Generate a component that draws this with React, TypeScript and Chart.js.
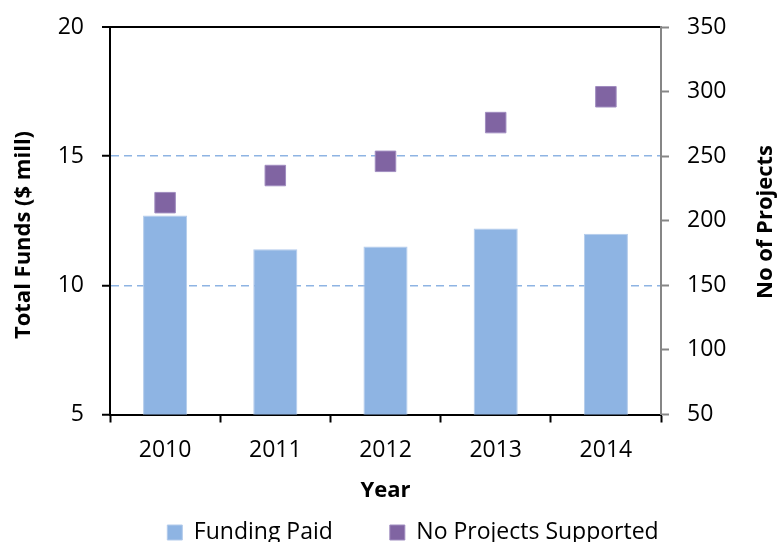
import React, { useEffect, useRef } from "react";
import { Chart, registerables } from "chart.js";

Chart.register(...registerables);

const years = ["2010", "2011", "2012", "2013", "2014"];
const fundingPaid = [12.7, 11.4, 11.5, 12.2, 12.0];
const projectsSupported = [214, 235, 246, 276, 296];
const leftTicks = [5, 10, 15, 20];
const rightTicks = [50, 100, 150, 200, 250, 300, 350];
const leftTitle = "Total Funds ($ mill)";
const rightTitle = "No of Projects";
const xTitle = "Year";

const FONT = "'Open Sans', 'DejaVu Sans', sans-serif";
const W = 778;
const H = 554.5;

const sideTitlesPlugin = {
  id: "sideTitles",
  afterDraw(chart: any) {
    const { ctx } = chart;
    const draw = (text: string, x: number, y: number) => {
      ctx.save();
      ctx.translate(x, y);
      ctx.rotate(-Math.PI / 2);
      ctx.font = `bold 22px ${FONT}`;
      ctx.fillStyle = "#000";
      ctx.textAlign = "center";
      ctx.textBaseline = "middle";
      ctx.fillText(text, 0, 0);
      ctx.restore();
    };
    draw(leftTitle, 24, 235);
    draw(rightTitle, 766, 222);
  },
};

export default function App() {
  const ref = useRef<HTMLCanvasElement | null>(null);
  useEffect(() => {
    if (!ref.current) return;
    const chart = new Chart(ref.current, {
      type: "bar",
      data: {
        labels: years,
        datasets: [
          {
            type: "bar",
            label: "Funding Paid",
            data: fundingPaid,
            yAxisID: "y",
            backgroundColor: "#8EB4E3",
            borderColor: "#B3CBEB",
            borderWidth: 1,
            barPercentage: 0.4,
            categoryPercentage: 1.0,
          },
          {
            type: "line",
            label: "No Projects Supported",
            data: projectsSupported,
            yAxisID: "y2",
            showLine: false,
            pointStyle: "rect",
            pointRadius: 14.5,
            pointHoverRadius: 14.5,
            backgroundColor: "#8064A2",
            borderColor: "#A08DC0",
            borderWidth: 1,
          } as any,
        ],
      },
      options: {
        responsive: false,
        animation: false,
        layout: { padding: { top: 27, left: 48, right: 0, bottom: 0 } },
        plugins: {
          tooltip: { enabled: false },
          legend: {
            position: "bottom",
            labels: {
              font: { family: FONT, size: 23 },
              color: "#000",
              boxWidth: 15,
              boxHeight: 15,
              padding: 57,
            },
          },
        },
        scales: {
          x: {
            grid: {
              offset: true,
              drawOnChartArea: false,
              drawTicks: true,
              tickLength: 8,
              tickWidth: 2,
              tickColor: "#000",
            },
            border: { color: "#000", width: 2 },
            ticks: {
              font: { family: FONT, size: 23 },
              color: "#000",
              padding: 14,
              maxRotation: 0,
            },
            title: {
              display: true,
              text: xTitle,
              font: { family: FONT, size: 22, weight: "bold" },
              color: "#000",
              padding: { top: 0, bottom: -39.5 },
            },
            afterFit: (s: any) => {
              s.height = 49.5;
            },
          },
          y: {
            position: "left",
            min: 5,
            max: 20,
            afterBuildTicks: (s: any) => {
              s.ticks = leftTicks.map((v) => ({ value: v }));
            },
            grid: {
              drawTicks: true,
              tickLength: 8,
              tickWidth: 2,
              tickColor: "#000",
              color: (c: any) =>
                c.tick && c.tick.value === 20
                  ? "#000"
                  : c.tick && (c.tick.value === 10 || c.tick.value === 15)
                  ? "#8EB4E3"
                  : "rgba(0,0,0,0)",
              lineWidth: (c: any) => (c.tick && c.tick.value === 20 ? 2 : 1.5),
            },
            border: {
              color: "#000",
              width: 2,
              dash: (c: any) => (c.tick && c.tick.value === 20 ? [] : [8, 5]),
            } as any,
            ticks: {
              font: { family: FONT, size: 23 },
              color: "#000",
              padding: 18,
            },
            title: { display: false, text: leftTitle },
            afterFit: (s: any) => {
              s.width = 62;
              s.paddingTop = 0;
              s.paddingBottom = 0;
            },
          },
          y2: {
            position: "right",
            min: 50,
            max: 350,
            afterBuildTicks: (s: any) => {
              s.ticks = rightTicks.map((v) => ({ value: v }));
            },
            grid: {
              drawOnChartArea: false,
              drawTicks: true,
              tickLength: 8,
              tickWidth: 2,
              tickColor: "#868686",
            },
            border: { color: "#868686", width: 2 },
            ticks: {
              font: { family: FONT, size: 23 },
              color: "#000",
              padding: 18,
            },
            title: { display: false, text: rightTitle },
            afterFit: (s: any) => {
              s.width = 117;
              s.paddingTop = 0;
              s.paddingBottom = 0;
            },
          },
        },
      } as any,
      plugins: [sideTitlesPlugin],
    });
    return () => chart.destroy();
  }, []);

  return (
    <div style={{ position: "absolute", left: 0, top: 0, width: W, height: H, background: "#fff" }}>
      <canvas ref={ref} width={W} height={H} style={{ display: "block" }} />
    </div>
  );
}
